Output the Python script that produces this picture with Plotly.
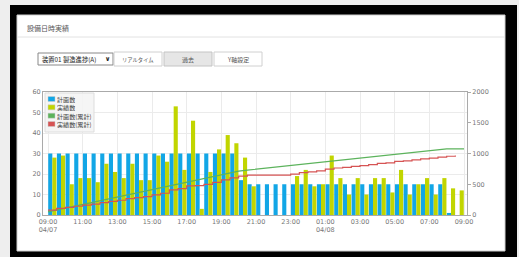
import plotly.graph_objects as go
import pandas as pd

# ---------------- data ----------------
start_time = "2021-04-07 09:00"
slot_times = pd.date_range(start_time, periods=48, freq="30min")      # 30-min slots
cum_times = pd.date_range(start_time, periods=49, freq="30min")       # cumulative points

plan = [30, 30, 30, 30, 30, 30, 30, 30, 30, 30, 30, 30, 30, 30, 30, 30, 30, 30, 30, 30, 30, 30,
        17, 15, 15, 15, 15, 15, 15, 15, 15, 15, 15, 15, 15, 15, 15, 15, 15, 15, 15, 15, 15, 15,
        15, 15, 1, 0]
actual = [28, 29, 15, 18, 18, 16, 25, 21, 18, 25, 17, 17, 29, 26, 53, 22, 46, 3, 21, 32, 39, 35,
          28, 14, 0, 0, 0, 0, 19, 22, 14, 15, 29, 18, 10, 18, 10, 18, 18, 11, 22, 10, 15, 18,
          10, 18, 13, 12]
plan_cum = [52, 82, 112, 142, 172, 202, 232, 262, 292, 322, 352, 382, 412, 442, 472, 502, 532,
            562, 592, 622, 652, 682, 712, 729, 744, 759, 774, 789, 804, 819, 834, 849, 864, 879,
            894, 909, 924, 939, 954, 969, 984, 999, 1014, 1029, 1044, 1059, 1074, 1075, 1075]
actual_cum = [80, 109, 124, 142, 160, 176, 201, 222, 240, 265, 282, 299, 328, 354, 407, 429, 475,
              478, 499, 531, 570, 605, 633, 647, 647, 647, 647, 647, 666, 688, 702, 717, 746, 764,
              774, 792, 802, 820, 838, 849, 871, 881, 896, 914, 924, 942, 955, 967]

tick_times = pd.date_range(start_time, periods=13, freq="2h")
tick_text = ["09:00<br>04/07", "11:00", "13:00", "15:00", "17:00", "19:00", "21:00", "23:00",
             "01:00<br>04/08", "03:00", "05:00", "07:00", "09:00"]
left_ticks = [0, 10, 20, 30, 40, 50, 60]
right_ticks = [0, 500, 1000, 1500, 2000]

series_names = ["計画数", "実績数", "計画数(累計)", "実績数(累計)"]
series_colors = ["#12a6e6", "#c1d500", "#5cb35c", "#d65454"]

# ---------------- layout helpers ----------------
W, H = 519, 257
L, R, T, B = 43, 467, 92, 215


def px(x):
    return (x - L) / (R - L)


def py(y):
    return (B - y) / (B - T)


CJK = "Noto Sans CJK JP"
TICKFONT = dict(family="DejaVu Sans", size=6.5, color="#777")

fig = go.Figure()
fig.add_trace(go.Bar(x=slot_times, y=plan, name=series_names[0], marker_color=series_colors[0],
                     marker_line_width=0, xperiod=1800000, xperiodalignment="middle"))
fig.add_trace(go.Bar(x=slot_times, y=actual, name=series_names[1], marker_color=series_colors[1],
                     marker_line_width=0, xperiod=1800000, xperiodalignment="middle"))
fig.add_trace(go.Scatter(x=cum_times, y=plan_cum, name=series_names[2], yaxis="y2", mode="lines",
                         line=dict(color=series_colors[2], width=1.2)))
fig.add_trace(go.Scatter(x=slot_times, y=actual_cum, name=series_names[3], yaxis="y2", mode="lines",
                         line=dict(color=series_colors[3], width=1.2, shape="hv")))

shapes = []
# outer black frame & white panel
shapes.append(dict(type="rect", xref="paper", yref="paper", x0=px(10), x1=px(517), y0=py(260), y1=py(5),
                   fillcolor="#000", line=dict(width=0), layer="below"))
shapes.append(dict(type="rect", xref="paper", yref="paper", x0=px(17), x1=px(505), y0=py(251), y1=py(15),
                   fillcolor="#fff", line=dict(color="#cfcfcf", width=1), layer="below"))
shapes.append(dict(type="line", xref="paper", yref="paper", x0=px(17), x1=px(505), y0=py(37), y1=py(37),
                   line=dict(color="#e2e2e2", width=1), layer="below"))
# select box and buttons
shapes.append(dict(type="rect", xref="paper", yref="paper", x0=px(38), x1=px(113), y0=py(65), y1=py(53),
                   fillcolor="#fff", line=dict(color="#888", width=1), layer="below"))
for x0, x1, fc, lc in [(114, 162, "#fff", "#d0d0d0"), (164, 212, "#e6e6e6", "#c4c4c4"),
                       (214, 262, "#fff", "#d0d0d0")]:
    shapes.append(dict(type="rect", xref="paper", yref="paper", x0=px(x0), x1=px(x1), y0=py(66), y1=py(52),
                       fillcolor=fc, line=dict(color=lc, width=1), layer="below"))
# legend box
shapes.append(dict(type="rect", xref="paper", yref="paper", x0=px(45), x1=px(94), y0=py(132), y1=py(93),
                   fillcolor="rgba(244,244,244,0.9)", line=dict(color="#dddddd", width=1), layer="above"))
rows = [99, 107.3, 115.7, 124]
annotations = []
for yc, name, col in zip(rows, series_names, series_colors):
    shapes.append(dict(type="rect", xref="paper", yref="paper", x0=px(48), x1=px(55), y0=py(yc + 2.5),
                       y1=py(yc - 2.5), fillcolor=col, line=dict(color="#cccccc", width=0.5), layer="above"))
    annotations.append(dict(text=name, xref="paper", yref="paper", x=px(55.5), y=py(yc), xanchor="left",
                            yanchor="middle", showarrow=False, height=8, borderpad=0,
                            font=dict(family=CJK, size=6.1, color="#444")))

annotations += [
    dict(text="設備日時実績", x=px(25), y=py(28), xanchor="left", font=dict(family=CJK, size=7, color="#555")),
    dict(text="装置01 製造進捗(A)", x=px(40), y=py(59.5), xanchor="left", font=dict(family=CJK, size=6.3, color="#222")),
    dict(text="<b>∨</b>", x=px(107), y=py(59), xanchor="center", font=dict(family="DejaVu Sans", size=6.5, color="#222")),
    dict(text="リアルタイム", x=px(138), y=py(59.5), xanchor="center", font=dict(family=CJK, size=5.3, color="#555")),
    dict(text="過去", x=px(188), y=py(59.5), xanchor="center", font=dict(family=CJK, size=6, color="#555")),
    dict(text="Y軸設定", x=px(238), y=py(59.5), xanchor="center", font=dict(family=CJK, size=6, color="#555")),
]
for a in annotations[4:]:
    a.update(xref="paper", yref="paper", yanchor="middle", showarrow=False)

fig.update_layout(
    width=W, height=H,
    margin=dict(l=L, r=W - R, t=T, b=H - B, pad=0),
    paper_bgcolor="#eeeeee", plot_bgcolor="#ffffff",
    showlegend=False,
    barmode="group", bargap=0.05, bargroupgap=0,
    shapes=shapes, annotations=annotations,
    xaxis=dict(type="date", range=["2021-04-07 08:42:40", "2021-04-08 09:10:23"],
               tickvals=tick_times, ticktext=tick_text, tickfont=TICKFONT,
               showgrid=True, gridcolor="#ebebeb", gridwidth=1,
               showline=True, linecolor="#aaaaaa", linewidth=1, mirror=True, ticks=""),
    yaxis=dict(range=[0, 60], tickvals=left_ticks, tickfont=TICKFONT,
               showgrid=True, gridcolor="#ebebeb", zeroline=False,
               showline=True, linecolor="#aaaaaa", linewidth=1, mirror=True, ticks=""),
    yaxis2=dict(range=[0, 2000], tickvals=right_ticks, tickfont=TICKFONT, overlaying="y", side="right",
                showgrid=False, zeroline=False, showline=True, linecolor="#aaaaaa",
                ticks="outside", ticklen=3, tickcolor="#aaaaaa"),
)

fig.write_html("out.html", config={"displayModeBar": False},
               post_script="document.body.style.margin='0';document.body.style.background='#eeeeee';")
